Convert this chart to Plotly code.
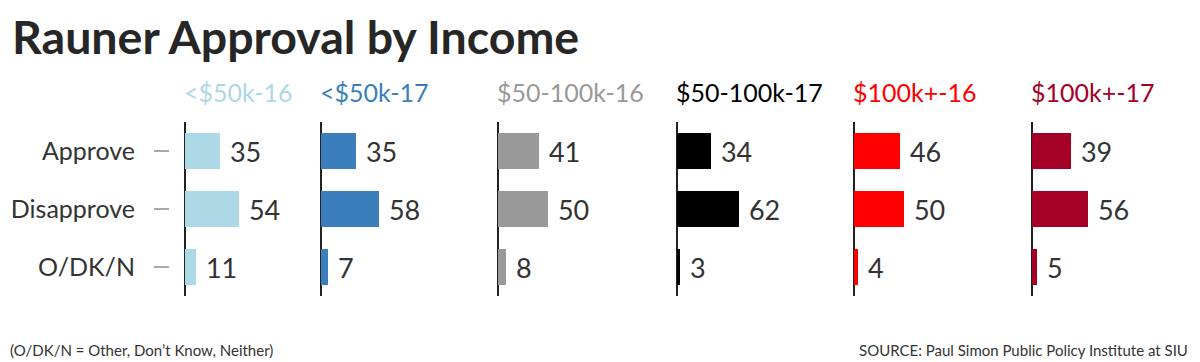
import plotly.graph_objects as go

categories = ["Approve", "Disapprove", "O/DK/N"]
groups = ["<$50k-16", "<$50k-17", "$50-100k-16", "$50-100k-17", "$100k+-16", "$100k+-17"]
under50_16 = [35, 54, 11]
under50_17 = [35, 58, 7]
mid_16 = [41, 50, 8]
mid_17 = [34, 62, 3]
over100_16 = [46, 50, 4]
over100_17 = [39, 56, 5]
series = [under50_16, under50_17, mid_16, mid_17, over100_16, over100_17]
colors = ["#add8e6", "#3a7fbb", "#999999", "#000000", "#ff0000", "#a50026"]

title = "Rauner Approval by Income"
note = "(O/DK/N = Other, Don\u2019t Know, Neither)"
source = "SOURCE: Paul Simon Public Policy Institute at SIU"

W, H = 1200, 362
axis_px = [185, 321, 498, 677, 854, 1032]
LEFT_PAD = 15
SPAN = 120
FONT = "Lato"
TXT = "#333333"

fig = go.Figure()
layout = dict(
    width=W, height=H,
    margin=dict(l=0, r=0, t=122, b=66),
    paper_bgcolor="white", plot_bgcolor="white",
    showlegend=False,
    font=dict(family=FONT, color=TXT),
    bargap=0.38,
    annotations=[],
)

for i, (g, vals, col) in enumerate(zip(groups, series, colors)):
    n = i + 1
    xa = "x" if n == 1 else f"x{n}"
    ya = "y" if n == 1 else f"y{n}"
    fig.add_trace(go.Bar(
        x=vals, y=categories, orientation="h",
        marker=dict(color=col, line=dict(width=0)),
        text=vals, texttemplate=" %{x}", textposition="outside",
        textfont=dict(size=27, color=TXT, family=FONT),
        cliponaxis=False, width=0.62,
        xaxis=xa, yaxis=ya, hoverinfo="skip",
    ))
    px = axis_px[i]
    layout[f"xaxis{n}"] = dict(
        domain=[(px - LEFT_PAD) / W, (px + SPAN) / W],
        range=[-LEFT_PAD, SPAN], anchor=ya,
        showgrid=False, showticklabels=False, ticks="",
        zeroline=True, zerolinecolor="#222222", zerolinewidth=2,
        showline=False, fixedrange=True,
    )
    yax = dict(
        domain=[0, 1], anchor=xa, type="category",
        categoryorder="array", categoryarray=categories,
        range=[2.5, -0.5], showgrid=False, zeroline=False, showline=False,
        fixedrange=True,
    )
    if n == 1:
        yax.update(ticks="outside", ticklen=15, tickwidth=2, tickcolor="#aaaaaa",
                   tickfont=dict(size=25, color=TXT, family=FONT),
                   ticklabelstandoff=14)
    else:
        yax.update(showticklabels=False, ticks="")
    layout[f"yaxis{n}"] = yax
    layout["annotations"].append(dict(
        text=g, xref=xa, yref="paper", x=0, y=1 + 30 / 174,
        xanchor="left", yanchor="middle", showarrow=False, xshift=-3,
        font=dict(size=25, color=col, family=FONT),
    ))

layout["annotations"].append(dict(
    text=f"<b>{title}</b>", xref="paper", yref="paper", x=12 / W, y=1 + 86 / 174,
    xanchor="left", yanchor="middle", showarrow=False, xshift=-2,
    font=dict(size=46.5, color="#262626", family=FONT),
))
layout["annotations"].append(dict(
    text=note, xref="paper", yref="paper", x=10 / W, y=-54 / 174,
    xanchor="left", yanchor="middle", showarrow=False, xshift=-2,
    font=dict(size=15, color="#333333", family=FONT),
))
layout["annotations"].append(dict(
    text=source, xref="paper", yref="paper", x=1188 / W, y=-54 / 174,
    xanchor="right", yanchor="middle", showarrow=False, xshift=2,
    font=dict(size=15, color="#333333", family=FONT),
))

fig.update_layout(**layout)
fig.write_html(
    "out.html",
    config={"displayModeBar": False, "staticPlot": False},
    post_script="document.body.style.margin='0';document.body.style.overflow='hidden';",
)
